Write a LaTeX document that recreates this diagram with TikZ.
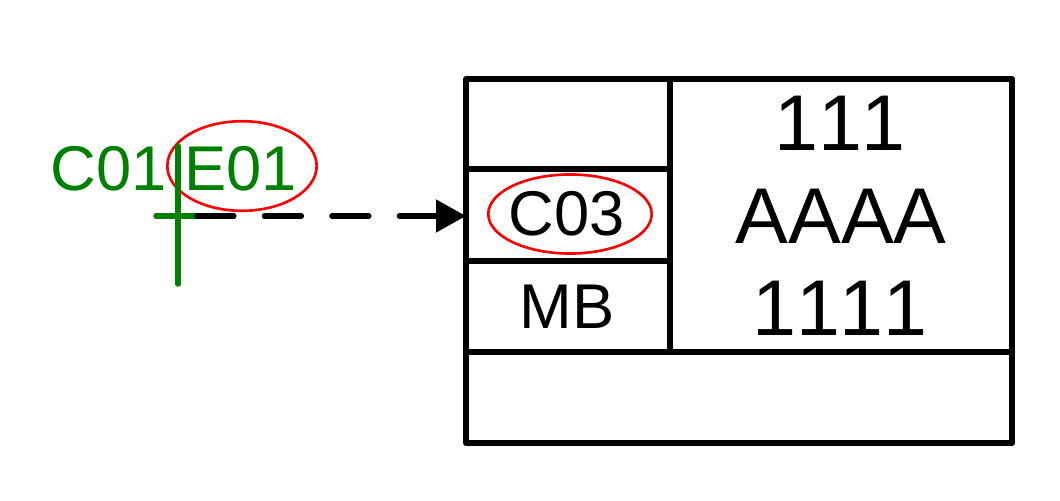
\documentclass[tikz,border=0pt]{standalone}
\usepackage{fontspec}
\setmainfont[Kerning=Off]{Liberation Sans}
\usetikzlibrary{arrows.meta,shapes.geometric}
\definecolor{grn}{RGB}{0,128,0}
\begin{document}
\begin{tikzpicture}[x=0.02cm,y=-0.02cm,
  boxline/.style={line width=3.4pt, line cap=round, line join=round},
  bigtext/.style={font=\fontsize{45}{54}\selectfont, inner sep=0pt, anchor=base},
  smalltext/.style={font=\fontsize{36}{43}\selectfont, inner sep=0pt, anchor=base},
  redring/.style={draw=red, line width=1.5pt, ellipse, inner sep=0pt},
  greenline/.style={draw=grn, line width=3.1pt, line cap=round},
  dasharrow/.style={line width=3.1pt, line cap=round, dash pattern=on 21pt off 17.4pt,
    -{Triangle[length=17pt,width=18pt]}},
]
\useasboundingbox (0,0) rectangle (1060,500);
% box
\coordinate (tl) at (466,79);
\coordinate (br) at (1012,443);
\draw[boxline] (tl) rectangle (br);
\draw[boxline] (670,79) -- (670,352);
\draw[boxline] (466,169) -- (670,169);
\draw[boxline] (466,261) -- (670,261);
\draw[boxline] (466,352) -- (1012,352);
% cell anchors
\coordinate (c03in) at (466,216);
% texts
\node[bigtext] (t111) at (840,150) {111};
\node[bigtext] (tAAAA) at (841,243) {AAAA};
\node[bigtext] (t1111) at (840,335) {1111};
\node[smalltext] (tC03) at (567,235) {C03};
\node[smalltext] (tMB) at (567,328) {MB};
\node[smalltext, text=grn] (tlabel) at (174,190) {C01 E01};
% red ellipses
\node[redring, minimum width=85pt, minimum height=51pt] (ringE) at (242,166) {};
\node[redring, minimum width=93pt, minimum height=45pt] (ringC) at (570,214) {};
% green crosshair
\coordinate (vtop) at (178,146);
\coordinate (vbot) at (178,284);
\coordinate (hleft) at (156,216);
\coordinate (hright) at (197,216);
\draw[greenline] (vtop) -- (vbot);
\draw[greenline] (hleft) -- (hright);
% dashed arrow
\draw[dasharrow] (hright) -- (c03in);
\end{tikzpicture}
\end{document}
